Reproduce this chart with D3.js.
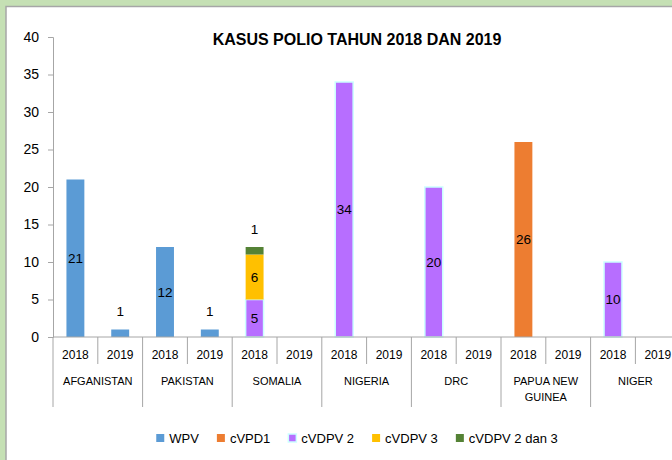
<!DOCTYPE html>
<html>
<head>
<meta charset="utf-8">
<script src="https://cdn.jsdelivr.net/npm/d3@7"></script>
<style>
  body { margin: 0; background: #c5e0b4; }
  svg { display: block; font-family: "Liberation Sans", Arial, sans-serif; }
</style>
</head>
<body>
<div id="chart"></div>
<script>
// data, one slot per country-year
const countries = ["AFGANISTAN", "PAKISTAN", "SOMALIA", "NIGERIA", "DRC", "PAPUA NEW GUINEA", "NIGER"];
const years = ["2018", "2019"];
const seriesNames = ["WPV", "cVPD1", "cVDPV 2", "cVDPV 3", "cVDPV 2 dan 3"];
const wpv     = [21, 1, 12, 1, 0, 0, 0, 0, 0, 0, 0, 0, 0, 0];
const cvpd1   = [0, 0, 0, 0, 0, 0, 0, 0, 0, 0, 26, 0, 0, 0];
const cvdpv2  = [0, 0, 0, 0, 5, 0, 34, 0, 20, 0, 0, 0, 10, 0];
const cvdpv3  = [0, 0, 0, 0, 6, 0, 0, 0, 0, 0, 0, 0, 0, 0];
const cvdpv23 = [0, 0, 0, 0, 1, 0, 0, 0, 0, 0, 0, 0, 0, 0];
const yTicks = [0, 5, 10, 15, 20, 25, 30, 35, 40];

const colors = ["#5b9bd5", "#ed7d31", "#b76eff", "#ffc000", "#548235"];
const seriesValues = [wpv, cvpd1, cvdpv2, cvdpv3, cvdpv23];

const width = 672, height = 460;
const svg = d3.select("#chart").append("svg")
    .attr("width", width)
    .attr("height", height);

// white chart panel with grey border (cut off on the right and bottom)
svg.append("rect")
    .attr("x", 6).attr("y", 6.5)
    .attr("width", 720).attr("height", 500)
    .attr("fill", "#fff")
    .attr("stroke", "#a6a6a6")
    .attr("stroke-width", 1.5);

// build table rows for the stack
const slots = [];
countries.forEach((c, ci) => years.forEach((yr, yi) => slots.push({ key: ci * 2 + yi, country: c, year: yr })));
const rows = slots.map((s, i) => {
  const r = { key: s.key };
  seriesNames.forEach((n, k) => r[n] = seriesValues[k][i]);
  return r;
});

const x0 = 53, y0 = 337;
const x = d3.scaleBand().domain(slots.map(s => s.key)).range([x0, x0 + 44.8 * slots.length]).padding(0);
const y = d3.scaleLinear().domain([0, 40]).range([y0, 37]);

// title
svg.append("text")
    .attr("x", 357).attr("y", 45)
    .attr("text-anchor", "middle")
    .attr("font-size", 16)
    .attr("font-weight", "bold")
    .attr("fill", "#000")
    .text("KASUS POLIO TAHUN 2018 DAN 2019");

// y axis
const yAxis = svg.append("g")
    .attr("transform", `translate(${x0},0)`)
    .call(d3.axisLeft(y).tickValues(yTicks).tickSize(5).tickPadding(9));
yAxis.select(".domain").attr("stroke", "#a6a6a6");
yAxis.selectAll(".tick line").attr("stroke", "#a6a6a6");
yAxis.selectAll(".tick text")
    .attr("font-size", 14)
    .attr("font-family", "Liberation Sans, Arial, sans-serif")
    .attr("fill", "#000");

// bars
const stack = d3.stack().keys(seriesNames);
const layers = stack(rows);
const barW = x.bandwidth() * 0.4;

const layer = svg.selectAll(".layer")
  .data(layers)
  .enter().append("g")
    .attr("class", "layer")
    .attr("fill", (d, i) => colors[i]);

layer.selectAll("rect")
  .data(d => d.filter(p => p[1] - p[0] > 0))
  .enter().append("rect")
    .attr("x", d => x(d.data.key) + (x.bandwidth() - barW) / 2)
    .attr("y", d => y(d[1]))
    .attr("width", barW)
    .attr("height", d => y(d[0]) - y(d[1]))
    .attr("stroke", function () { return d3.select(this.parentNode).datum().key === "cVDPV 2" ? "#ccffff" : "none"; })
    .attr("stroke-width", 1.5);

// data labels: centered in segment, or above when segment is small
layer.selectAll("text")
  .data(d => d.filter(p => p[1] - p[0] > 0).map(p => ({ p: p, key: d.key })))
  .enter().append("text")
    .attr("x", d => x(d.p.data.key) + x.bandwidth() / 2)
    .attr("y", d => {
      const v = d.p[1] - d.p[0];
      return v >= 3 ? y((d.p[0] + d.p[1]) / 2) : y(d.p[1]) - 18;
    })
    .attr("dy", "0.35em")
    .attr("text-anchor", "middle")
    .attr("font-size", 13.5)
    .attr("fill", "#000")
    .text(d => d.p[1] - d.p[0]);

// x axis: baseline, year labels, separators, country labels
const axisG = svg.append("g");
axisG.append("line")
    .attr("x1", x0).attr("x2", x.range()[1])
    .attr("y1", y0).attr("y2", y0)
    .attr("stroke", "#a6a6a6");

axisG.selectAll(".yr")
  .data(slots)
  .enter().append("text")
    .attr("x", d => x(d.key) + x.bandwidth() / 2)
    .attr("y", 359)
    .attr("text-anchor", "middle")
    .attr("font-size", 12)
    .attr("fill", "#000")
    .text(d => d.year);

axisG.selectAll(".sep")
  .data(d3.range(slots.length + 1))
  .enter().append("line")
    .attr("x1", i => x0 + i * x.bandwidth())
    .attr("x2", i => x0 + i * x.bandwidth())
    .attr("y1", y0)
    .attr("y2", i => i % 2 === 0 ? 407 : 364)
    .attr("stroke", "#a6a6a6");

const groupW = x.bandwidth() * 2;
axisG.selectAll(".country")
  .data(countries)
  .enter().append("text")
    .attr("x", (d, i) => x0 + i * groupW + groupW / 2)
    .attr("y", 385)
    .attr("text-anchor", "middle")
    .attr("font-size", 11)
    .attr("fill", "#000")
    .each(function (d) {
      // wrap long names onto two lines
      const t = d3.select(this);
      const words = d.split(" ");
      let line = [], lines = [];
      words.forEach(w => {
        t.text([...line, w].join(" "));
        if (this.getComputedTextLength() > groupW - 10 && line.length) {
          lines.push(line.join(" "));
          line = [w];
        } else line.push(w);
      });
      lines.push(line.join(" "));
      t.text(null);
      lines.forEach((l, k) => t.append("tspan")
          .attr("x", t.attr("x"))
          .attr("dy", k === 0 ? 0 : 16)
          .text(l));
    });

// legend
const legend = svg.append("g").attr("transform", "translate(0,438)");
const items = legend.selectAll(".item")
  .data(seriesNames)
  .enter().append("g");
items.append("rect")
    .attr("y", -4).attr("width", 8).attr("height", 8)
    .attr("fill", (d, i) => colors[i])
    .attr("stroke", d => d === "cVDPV 2" ? "#ccffff" : "none")
    .attr("stroke-width", 1.5);
items.append("text")
    .attr("x", 13)
    .attr("dy", "0.35em")
    .attr("font-size", 13)
    .attr("fill", "#000")
    .text(d => d);
let lx = 0;
const offsets = [];
items.each(function () {
  offsets.push(lx);
  lx += 13 + d3.select(this).select("text").node().getComputedTextLength() + 18;
});
const totalW = lx - 18;
const startX = 357 - totalW / 2;
items.attr("transform", (d, i) => `translate(${startX + offsets[i]},0)`);
</script>
</body>
</html>
